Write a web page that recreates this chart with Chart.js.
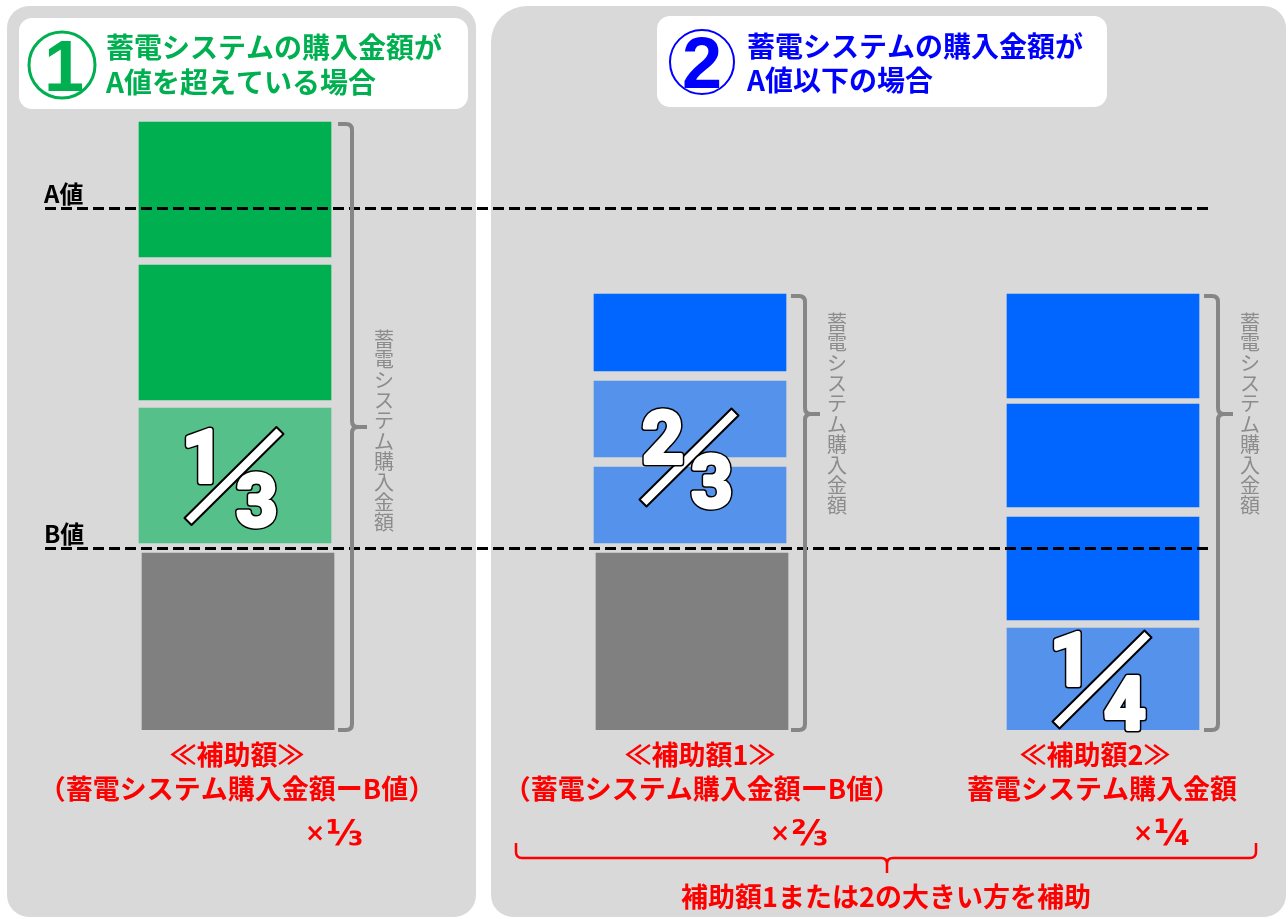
<!DOCTYPE html>
<html lang="ja">
<head>
<meta charset="UTF-8">
<title>蓄電システム 補助額</title>
<script src="https://cdn.jsdelivr.net/npm/chart.js"></script>
<style>
  body { margin: 0; background: #ffffff; }
  canvas { display: block; }
</style>
</head>
<body>
<canvas id="grafico" width="1288" height="919"></canvas>
<script>
// ---- data (value units, 0 = bottom of bars) ----
const categories = ['①A値を超えている場合', '②補助額1', '②補助額2'];
const valorA = 522;
const valorB = 182;
// portion up to B value (gray)
const parteB = [[0, 177], [0, 177], null];
// case 1 green segments
const verdeClaro = [[187, 322]];
const verdeEscuro = [[330, 465], [473, 608]];
// case 2 blue segments, bar 2 and bar 3
const azulClaro2 = [[187, 263], [273, 349]];
const azulEscuro2 = [[359, 436]];
const azulClaro3 = [[0, 102]];
const azulEscuro3 = [[110, 213], [223, 326], [332, 436]];
// brace: top value and the value where its middle point sits
const chaveTopo = [608, 436, 436];
const chaveMeio = [303, 316, 316];
const fracoes = [['1', '3'], ['2', '3'], ['1', '4']];
const multiplicadores = [['×', '⅓'], ['×', '⅔'], ['×', '¼']];

// layout
const centros = [235, 690, 1103];
const larguraBarra = 192;

function pontos(lista, idx, dx) {
    return lista.map(function (v) { return { x: centros[idx] + (dx || 0), y: v }; });
}

const fonteJP = '"Noto Sans CJK JP", "Noto Sans", sans-serif';

function caixa(ctx, x, y, w, h, r, cor) {
    ctx.fillStyle = cor;
    ctx.beginPath();
    ctx.roundRect(x, y, w, h, r);
    ctx.fill();
}

const fundo = {
    id: 'fundo',
    beforeDatasetsDraw(chart) {
        const ctx = chart.ctx;
        ctx.save();
        caixa(ctx, 7, 6, 469, 911, 22, '#d9d9d9');
        caixa(ctx, 491, 6, 795, 911, [36, 22, 22, 22], '#d9d9d9');
        caixa(ctx, 19, 18, 449, 91, 13, '#ffffff');
        caixa(ctx, 657, 16, 450, 91, 13, '#ffffff');

        // circled numbers
        ctx.lineWidth = 3;
        ctx.strokeStyle = '#00b050';
        ctx.beginPath(); ctx.arc(62, 65, 33, 0, Math.PI * 2); ctx.stroke();
        ctx.lineWidth = 2;
        ctx.strokeStyle = '#0000ff';
        ctx.beginPath(); ctx.arc(702, 62, 32, 0, Math.PI * 2); ctx.stroke();
        ctx.textAlign = 'center';
        ctx.textBaseline = 'alphabetic';
        ctx.font = 'bold 72px "Liberation Sans", Arial, sans-serif';
        ctx.fillStyle = '#00b050';
        ctx.fillText('1', 64, 91);
        ctx.fillStyle = '#0000ff';
        ctx.fillText('2', 702, 88);

        ctx.textAlign = 'left';
        ctx.textBaseline = 'middle';
        ctx.font = 'bold 28px ' + fonteJP;
        ctx.fillStyle = '#00b050';
        ctx.fillText('蓄電システムの購入金額が', 106, 47);
        ctx.fillText('A値を超えている場合', 106, 82);
        ctx.fillStyle = '#0000ff';
        ctx.fillText('蓄電システムの購入金額が', 747, 46);
        ctx.fillText('A値以下の場合', 747, 80);
        ctx.restore();
    }
};

function barra(ctx, x1, y1, x2, y2, meia) {
    const dx = x2 - x1, dy = y2 - y1;
    const len = Math.sqrt(dx * dx + dy * dy);
    const nx = -dy / len * meia, ny = dx / len * meia;
    ctx.beginPath();
    ctx.moveTo(x1 + nx, y1 + ny);
    ctx.lineTo(x2 + nx, y2 + ny);
    ctx.lineTo(x2 - nx, y2 - ny);
    ctx.lineTo(x1 - nx, y1 - ny);
    ctx.closePath();
    ctx.fill();
    ctx.stroke();
}

function digito(ctx, t, x, y) {
    ctx.strokeStyle = '#000000';
    ctx.lineWidth = 7;
    ctx.strokeText(t, x, y);
    ctx.strokeStyle = '#ffffff';
    ctx.lineWidth = 4;
    ctx.strokeText(t, x, y);
    ctx.fillText(t, x, y);
}

const anotacoes = {
    id: 'anotacoes',
    afterDatasetsDraw(chart) {
        const ctx = chart.ctx;
        const sx = chart.scales.x, sy = chart.scales.y;
        ctx.save();

        // fractions inside the bars
        const posFr = [
            verdeClaro[0],
            [azulClaro2[0][0], azulClaro2[1][1]],
            azulClaro3[0]
        ];
        ctx.font = 'bold 72px Roboto, "Liberation Sans", sans-serif';
        ctx.textAlign = 'center';
        ctx.textBaseline = 'alphabetic';
        ctx.lineJoin = 'round';
        for (let i = 0; i < 3; i++) {
            const cx = sx.getPixelForValue(centros[i]);
            const topo = sy.getPixelForValue(posFr[i][1]);
            const base = sy.getPixelForValue(posFr[i][0]);
            const cy = (topo + base) / 2 + (i === 1 ? -5 : 0);
            ctx.fillStyle = '#ffffff';
            ctx.strokeStyle = '#000000';
            ctx.lineWidth = 2;
            barra(ctx, cx - 47, cy + 46, cx + 45, cy - 45, 5);
            const d1 = i === 1 ? cx - 27 : cx - 32;
            digito(ctx, fracoes[i][0], d1, cy + 6);
            digito(ctx, fracoes[i][1], cx + 22, cy + 50);
        }

        // dashed reference lines
        ctx.strokeStyle = '#000000';
        ctx.lineWidth = 3;
        ctx.setLineDash([11, 5]);
        [valorA, valorB].forEach(function (v) {
            const y = Math.round(sy.getPixelForValue(v)) + 0.5;
            ctx.beginPath();
            ctx.moveTo(45, y);
            ctx.lineTo(1210, y);
            ctx.stroke();
        });
        ctx.setLineDash([]);
        ctx.fillStyle = '#000000';
        ctx.font = 'bold 24px ' + fonteJP;
        ctx.textAlign = 'left';
        ctx.textBaseline = 'alphabetic';
        ctx.fillText('A値', 44, sy.getPixelForValue(valorA) - 5);
        ctx.fillText('B値', 44, sy.getPixelForValue(valorB) - 5);

        // brackets + vertical labels
        ctx.strokeStyle = '#868686';
        ctx.lineWidth = 4;
        ctx.lineCap = 'butt';
        for (let i = 0; i < 3; i++) {
            const dir = sx.getPixelForValue(centros[i]) + larguraBarra / 2 + (i === 0 ? 2 : 0);
            const x0 = dir + 5, xv = dir + 19, xt = dir + 34;
            const t = sy.getPixelForValue(chaveTopo[i]) + 2;
            const b = sy.getPixelForValue(0);
            const m = sy.getPixelForValue(chaveMeio[i]);
            const r = 6;
            ctx.beginPath();
            ctx.moveTo(x0, t);
            ctx.lineTo(xv - r, t);
            ctx.quadraticCurveTo(xv, t, xv, t + r);
            ctx.lineTo(xv, m - r);
            ctx.quadraticCurveTo(xv, m, xv + r, m);
            ctx.lineTo(xt, m);
            ctx.moveTo(x0, b);
            ctx.lineTo(xv - r, b);
            ctx.quadraticCurveTo(xv, b, xv, b - r);
            ctx.lineTo(xv, m + r);
            ctx.quadraticCurveTo(xv, m, xv + r, m);
            ctx.stroke();

            const txt = '蓄電システム購入金額';
            ctx.fillStyle = '#8c8c8c';
            ctx.font = '20px ' + fonteJP;
            ctx.textAlign = 'center';
            ctx.textBaseline = 'middle';
            const passo = 20.4;
            const y0 = m + (i === 0 ? 4 : 0) - passo * (txt.length - 1) / 2;
            for (let k = 0; k < txt.length; k++) {
                ctx.fillText(txt[k], xv + 32, y0 + k * passo);
            }
        }

        // red captions
        ctx.fillStyle = '#ff0000';
        ctx.textBaseline = 'middle';
        ctx.textAlign = 'center';
        ctx.font = 'bold 27px ' + fonteJP;
        ctx.fillText('≪補助額≫', 237, 755);
        ctx.fillText('（蓄電システム購入金額ーB値）', 237, 789);
        ctx.fillText('≪補助額1≫', 700, 755);
        ctx.fillText('（蓄電システム購入金額ーB値）', 702, 789);
        ctx.fillText('≪補助額2≫', 1095, 755);
        ctx.fillText('蓄電システム購入金額', 1102, 789);
        ctx.fillText('補助額1または2の大きい方を補助', 886, 897);
        ctx.textAlign = 'left';
        ctx.textBaseline = 'alphabetic';
        const xMult = [305, 770, 1133];
        for (let i = 0; i < 3; i++) {
            ctx.font = 'bold 24px "DejaVu Sans", sans-serif';
            ctx.fillText(multiplicadores[i][0], xMult[i], 841);
            const w = ctx.measureText(multiplicadores[i][0]).width;
            ctx.font = 'bold 36px "DejaVu Sans", sans-serif';
            ctx.fillText(multiplicadores[i][1], xMult[i] + w + 1, 845);
        }

        // bottom brace
        ctx.strokeStyle = '#ff0000';
        ctx.lineWidth = 2.5;
        ctx.beginPath();
        ctx.moveTo(516, 843);
        ctx.lineTo(516, 852);
        ctx.quadraticCurveTo(516, 858, 522, 858);
        ctx.lineTo(881, 858);
        ctx.quadraticCurveTo(887, 858, 887, 864);
        ctx.lineTo(887, 873);
        ctx.moveTo(887, 864);
        ctx.quadraticCurveTo(887, 858, 893, 858);
        ctx.lineTo(1250, 858);
        ctx.quadraticCurveTo(1256, 858, 1256, 852);
        ctx.lineTo(1256, 843);
        ctx.stroke();
        ctx.restore();
    }
};

const opcoesBarra = { grouped: false, barThickness: larguraBarra, borderWidth: 0, borderSkipped: false };

new Chart(document.getElementById('grafico'), {
    type: 'bar',
    data: {
        labels: categories,
        datasets: [
            Object.assign({ label: 'B値まで', data: pontos([parteB[0]], 0, 3).concat(pontos([parteB[1]], 1, 2)), backgroundColor: '#808080' }, opcoesBarra),
            Object.assign({ label: '1/3対象', data: pontos(verdeClaro, 0), backgroundColor: '#55c089' }, opcoesBarra),
            Object.assign({ label: 'A値超過', data: pontos(verdeEscuro, 0), backgroundColor: '#00b050' }, opcoesBarra),
            Object.assign({ label: '2/3対象', data: pontos(azulClaro2, 1), backgroundColor: '#5592ec' }, opcoesBarra),
            Object.assign({ label: '補助額1', data: pontos(azulEscuro2, 1), backgroundColor: '#0066ff' }, opcoesBarra),
            Object.assign({ label: '1/4対象', data: pontos(azulClaro3, 2), backgroundColor: '#5592ec' }, opcoesBarra),
            Object.assign({ label: '補助額2', data: pontos(azulEscuro3, 2), backgroundColor: '#0066ff' }, opcoesBarra)
        ]
    },
    options: {
        responsive: false,
        animation: false,
        devicePixelRatio: 1,
        layout: { padding: { left: 0, right: 0, top: 0, bottom: 189 } },
        scales: {
            x: { type: 'linear', min: 0, max: 1288, offset: false, grid: { offset: false }, display: false },
            y: { min: 0, max: 730, display: false }
        },
        plugins: {
            legend: { display: false },
            tooltip: { enabled: false }
        }
    },
    plugins: [fundo, anotacoes]
});
</script>
</body>
</html>
